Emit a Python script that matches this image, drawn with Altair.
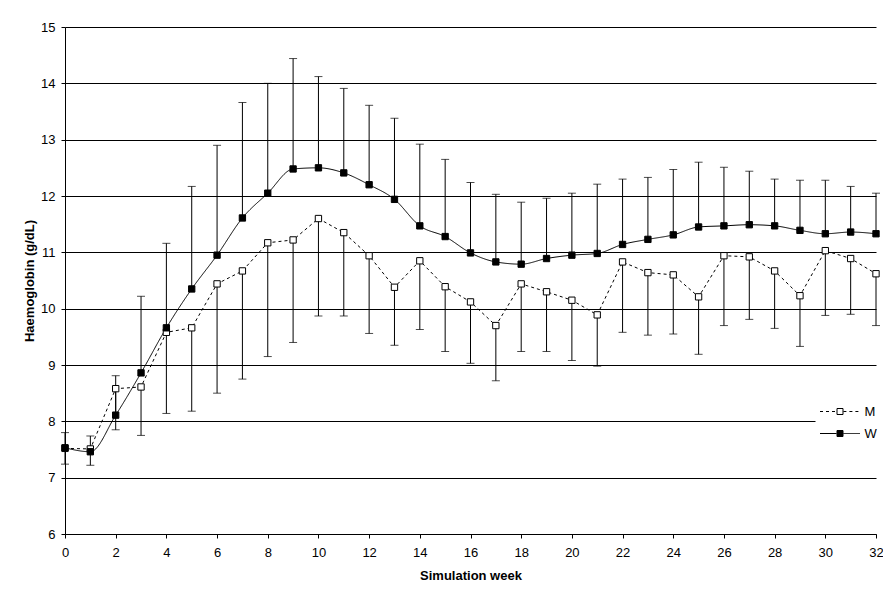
import altair as alt
import pandas as pd

weeks = list(range(33))
w_mean = [7.53, 7.46, 8.11, 8.86, 9.66, 10.35, 10.95, 11.61, 12.05, 12.48, 12.50, 12.41, 12.20,
          11.94, 11.47, 11.28, 10.99, 10.83, 10.79, 10.89, 10.95, 10.98, 11.14, 11.23, 11.31,
          11.45, 11.47, 11.49, 11.47, 11.39, 11.33, 11.36, 11.33]
w_upper = [7.80, 7.74, 8.81, 10.22, 11.16, 12.17, 12.90, 13.66, 14.00, 14.44, 14.12, 13.91, 13.61,
           13.38, 12.92, 12.65, 12.24, 12.03, 11.89, 11.96, 12.05, 12.21, 12.30, 12.33, 12.47,
           12.60, 12.51, 12.44, 12.30, 12.28, 12.28, 12.17, 12.05]
m_mean = [7.52, 7.51, 8.58, 8.61, 9.58, 9.66, 10.44, 10.67, 11.17, 11.22, 11.60, 11.35, 10.94,
          10.38, 10.85, 10.39, 10.12, 9.70, 10.44, 10.30, 10.15, 9.89, 10.83, 10.64, 10.60,
          10.21, 10.94, 10.92, 10.67, 10.23, 11.03, 10.89, 10.62]
m_lower = [7.24, 7.22, 7.85, 7.75, 8.14, 8.18, 8.50, 8.75, 9.15, 9.40, 9.87, 9.87, 9.56,
           9.35, 9.63, 9.24, 9.03, 8.72, 9.24, 9.24, 9.08, 8.98, 9.58, 9.53, 9.55,
           9.19, 9.70, 9.81, 9.65, 9.33, 9.88, 9.90, 9.70]
series_names = ["M", "W"]
x_ticks = list(range(0, 33, 2))
y_ticks = list(range(6, 16))

rows = []
for i, wk in enumerate(weeks):
    rows.append(dict(week=wk, series="M", kind="M", value=m_mean[i], err=m_lower[i]))
    rows.append(dict(week=wk, series="W", kind="W", value=w_mean[i], err=w_upper[i]))
df = pd.DataFrame(rows)

FONT = "Liberation Sans"

x = alt.X("week:Q", scale=alt.Scale(domain=[0, 32], nice=False, zero=False),
          axis=alt.Axis(values=x_ticks, grid=False, title="Simulation week", format="d",
                        labelFlush=False, labelOverlap=False, tickSize=4, labelPadding=8,
                        titlePadding=10))
y = alt.Y("value:Q", scale=alt.Scale(domain=[6, 15], nice=False, zero=False),
          axis=alt.Axis(values=y_ticks, grid=True, title="Haemoglobin (g/dL)", format="d",
                        tickSize=4, labelPadding=6, titlePadding=4, labelFlush=False,
                        labelOverlap=False))

base = alt.Chart(df)

rules = base.mark_rule(color="black", strokeWidth=1).encode(x=x, y=y, y2="err:Q")
caps = base.mark_tick(color="black", orient="horizontal", size=8, thickness=1).encode(
    x="week:Q", y="err:Q")

LX = 764.5
LY = 374
dash = alt.StrokeDash(
    "series:N",
    scale=alt.Scale(range=[[3, 3], [1, 0]]),
    legend=alt.Legend(title=None, orient="none", legendX=LX, legendY=LY,
                      symbolType="M-10,0H-1.7M1.7,0H10", symbolSize=16,
                      symbolStrokeWidth=1, symbolStrokeColor="black",
                      labelFont=FONT, labelFontSize=13, labelColor="black",
                      labelOffset=18, rowPadding=8, padding=4, zindex=2),
)

line_m = base.transform_filter("datum.series == 'M'").mark_line(
    color="black", strokeWidth=1).encode(x=x, y=y, strokeDash=dash)
line_w = base.transform_filter("datum.series == 'W'").mark_line(
    color="black", strokeWidth=1, interpolate="monotone").encode(x=x, y=y, strokeDash=dash)

PAD2 = 18
fill = alt.Fill(
    "kind:N",
    scale=alt.Scale(domain=series_names, range=["white", "black"]),
    legend=alt.Legend(title=None, orient="none", legendX=LX + 4 - PAD2, legendY=LY + 4 - PAD2,
                      symbolType="square", symbolSize=36, symbolStrokeColor="black",
                      symbolStrokeWidth=1, symbolOpacity=1,
                      labelFont=FONT, labelFontSize=13, labelOpacity=0,
                      labelOffset=18, rowPadding=8, padding=PAD2, fillColor="white", zindex=1),
)
points = base.mark_point(shape="square", size=40, filled=True, stroke="black",
                         strokeWidth=1, opacity=1).encode(x=x, y=y, fill=fill)

chart = alt.layer(rules, caps, line_m, line_w, points).properties(
    width=811, height=507,
    autosize=alt.AutoSizeParams(type="none"),
    padding={"left": 57, "top": 19, "right": 7, "bottom": 62},
).configure_view(stroke=None).configure_axis(
    labelFont=FONT, labelFontSize=13, labelColor="black",
    titleFont=FONT, titleFontSize=13, titleFontWeight="bold", titleColor="black",
    domainColor="black", tickColor="black", gridColor="black", gridOpacity=1,
    gridWidth=1, domainWidth=1, tickWidth=1,
)

chart.save("out.html", embed_options={"renderer": "svg", "actions": False})
